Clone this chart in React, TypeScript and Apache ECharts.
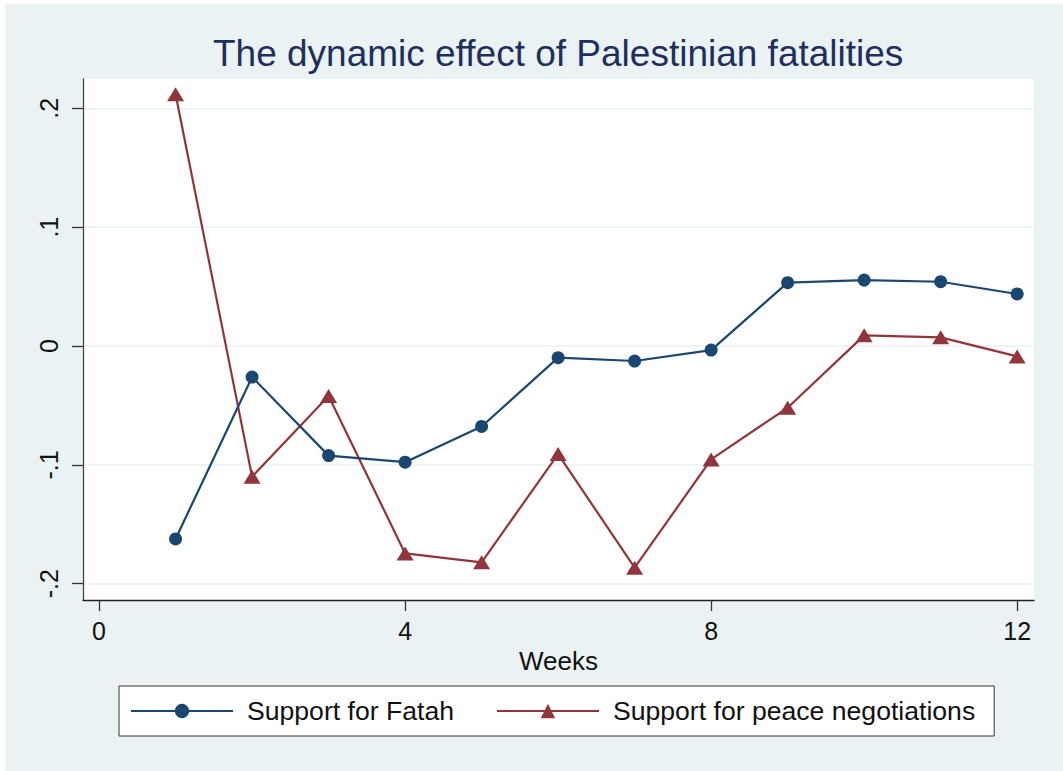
import React, { useEffect, useRef } from "react";
import * as echarts from "echarts";

const weeks = [1, 2, 3, 4, 5, 6, 7, 8, 9, 10, 11, 12];
const fatah = [-0.1623, -0.0261, -0.0922, -0.0977, -0.0677, -0.0098, -0.0126, -0.0034, 0.0533, 0.0555, 0.0541, 0.0438];
const peace = [0.2119, -0.1099, -0.042, -0.1745, -0.182, -0.0909, -0.1865, -0.0954, -0.0519, 0.009, 0.0073, -0.0087];
const xTicks = [0, 4, 8, 12];
const yTicks = [-0.2, -0.1, 0, 0.1, 0.2];
const seriesNames = ["Support for Fatah", "Support for peace negotiations"];
const titleText = "The dynamic effect of Palestinian fatalities";
const xName = "Weeks";

const FONT = "'Liberation Sans', Arial, Helvetica, sans-serif";
const BLUE = "#1a476f";
const RED = "#90353b";
const BG = "#eaf2f3";

function fmtY(v: number): string {
  const r = Math.round(v * 10) / 10;
  if (r === 0) return "0";
  const s = r.toFixed(1);
  return s.replace("0.", ".");
}

export default function App() {
  const ref = useRef<HTMLDivElement>(null);
  useEffect(() => {
    if (!ref.current) return;
    const chart = echarts.init(ref.current, undefined, { renderer: "svg" });
    chart.setOption({
      animation: false,
      backgroundColor: BG,
      title: {
        text: titleText,
        left: 208,
        top: 31,
        padding: 0,
        textStyle: { fontFamily: FONT, fontSize: 37, fontWeight: "normal", color: "#1e2f5e" },
      },
      grid: {
        left: 78,
        top: 75,
        width: 951,
        height: 521,
        show: true,
        backgroundColor: "#ffffff",
        borderWidth: 0,
      },
      legend: {
        left: 114,
        top: 682,
        orient: "horizontal",
        itemWidth: 102,
        itemHeight: 18,
        itemGap: 42,
        padding: [10, 19, 10, 11],
        borderColor: "#333333",
        borderWidth: 1,
        borderRadius: 0,
        backgroundColor: "#ffffff",
        textStyle: { fontFamily: FONT, fontSize: 26.6, color: "#111111", padding: [0, 0, 0, 9], lineHeight: 30 },
        data: seriesNames,
      },
      xAxis: {
        type: "value",
        min: -0.21,
        max: 12.22,
        name: xName,
        nameLocation: "middle",
        nameGap: 39,
        nameTextStyle: { fontFamily: FONT, fontSize: 26, color: "#111111" },
        axisLine: { show: true, onZero: false, lineStyle: { color: "#222222", width: 1.3 } },
        axisTick: { show: true, length: 11, customValues: xTicks, lineStyle: { color: "#333333", width: 1.3 } },
        axisLabel: { customValues: xTicks, margin: 18, fontFamily: FONT, fontSize: 25, color: "#111111" },
        splitLine: { show: false },
      },
      yAxis: {
        type: "value",
        min: -0.2137,
        max: 0.2247,
        axisLine: { show: true, onZero: false, lineStyle: { color: "#444444", width: 1.3 } },
        axisTick: { show: true, length: 11, customValues: yTicks, lineStyle: { color: "#333333", width: 1.3 } },
        axisLabel: {
          customValues: yTicks,
          rotate: 90,
          margin: 22,
          fontFamily: FONT,
          fontSize: 25,
          color: "#111111",
          formatter: (v: number) => fmtY(v),
        },
        splitLine: { show: true, lineStyle: { color: BG, width: 1.5 } },
      },
      series: [
        {
          name: seriesNames[0],
          type: "line",
          data: weeks.map((w, i) => [w, fatah[i]]),
          symbol: "circle",
          symbolSize: 13,
          color: BLUE,
          lineStyle: { color: BLUE, width: 2.2 },
          itemStyle: { color: BLUE },
          z: 3,
        },
        {
          name: seriesNames[1],
          type: "line",
          data: weeks.map((w, i) => [w, peace[i]]),
          symbol: "triangle",
          symbolSize: [17, 14],
          color: RED,
          lineStyle: { color: RED, width: 2.2 },
          itemStyle: { color: RED },
          z: 2,
        },
      ],
    });
    return () => chart.dispose();
  }, []);
  return (
    <div style={{ position: "absolute", left: 0, top: 0, width: 1063, height: 771, background: "#ffffff" }}>
      <div ref={ref} style={{ position: "absolute", left: 5, top: 4, width: 1058, height: 767 }} />
    </div>
  );
}
